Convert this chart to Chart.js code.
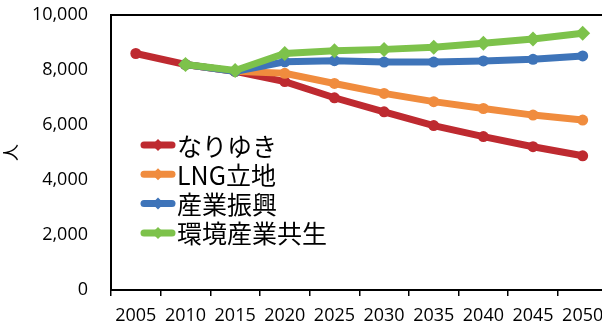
<!DOCTYPE html>
<html>
<head>
<meta charset="utf-8">
<script src="https://cdn.jsdelivr.net/npm/chart.js@4.4.1/dist/chart.umd.min.js"></script>
<style>
    html, body { margin: 0; padding: 0; background: #fff; overflow: hidden; }
    #wrap { width: 615px; height: 324px; }
</style>
</head>
<body>
<div id="wrap"><canvas id="chart" width="615" height="324"></canvas></div>
<script>
const years = ["2005", "2010", "2015", "2020", "2025", "2030", "2035", "2040", "2045", "2050"];
const seriesNames = ["なりゆき", "LNG立地", "産業振興", "環境産業共生"];
const nariyuki = [8600, 8200, 7950, 7580, 6990, 6480, 5980, 5580, 5210, 4880];
const lng = [null, 8200, 7950, 7880, 7510, 7150, 6850, 6600, 6360, 6180];
const sangyo = [null, 8200, 7950, 8300, 8340, 8290, 8290, 8330, 8390, 8510];
const kankyo = [null, 8200, 7980, 8600, 8700, 8750, 8830, 8970, 9130, 9340];
const yTicks = [0, 2000, 4000, 6000, 8000, 10000];

const colors = ["#BE2A30", "#F08C3E", "#3E74B9", "#7DC24B"];
const markers = ["circle", "circle", "circle", "rectRot"];

function makeDataset(i, data) {
    return {
        label: seriesNames[i],
        data: data,
        borderColor: colors[i],
        backgroundColor: colors[i],
        borderWidth: 7,
        pointStyle: markers[i],
        pointRadius: markers[i] === "rectRot" ? 7.5 : 5.5,
        pointBorderWidth: 0,
        tension: 0,
        order: 3 - i
    };
}

// legend drawn inside the plot area, like the original
const innerLegend = {
    id: "innerLegend",
    afterDraw(chart) {
        const ctx = chart.ctx;
        const area = chart.chartArea;
        // top border of the plot box
        ctx.save();
        ctx.strokeStyle = "#000";
        ctx.lineWidth = 2;
        ctx.beginPath();
        ctx.moveTo(area.left, area.top);
        ctx.lineTo(area.right, area.top);
        ctx.stroke();

        const x0 = area.left + 33;
        const y0 = area.top + 130;
        const rowH = 29.3;
        chart.data.datasets.forEach((ds, i) => {
            const y = y0 + i * rowH;
            ctx.strokeStyle = ds.borderColor;
            ctx.fillStyle = ds.borderColor;
            ctx.lineWidth = 7;
            ctx.lineCap = "round";
            ctx.beginPath();
            ctx.moveTo(x0, y);
            ctx.lineTo(x0 + 28, y);
            ctx.stroke();
            ctx.beginPath();
            ctx.moveTo(x0 + 14, y - 6);
            ctx.lineTo(x0 + 20, y);
            ctx.lineTo(x0 + 14, y + 6);
            ctx.lineTo(x0 + 8, y);
            ctx.closePath();
            ctx.fill();
            ctx.fillStyle = "#000";
            ctx.font = "25px 'Noto Sans CJK JP'";
            ctx.textBaseline = "middle";
            ctx.textAlign = "left";
            ctx.fillText(ds.label, x0 + 33, y + 1);
        });
        ctx.restore();
    }
};

new Chart(document.getElementById("chart").getContext("2d"), {
    type: "line",
    data: {
        labels: years,
        datasets: [
            makeDataset(0, nariyuki),
            makeDataset(1, lng),
            makeDataset(2, sangyo),
            makeDataset(3, kankyo)
        ]
    },
    options: {
        responsive: false,
        animation: false,
        layout: { padding: { top: 15, right: 0, left: 0, bottom: 0 } },
        plugins: {
            legend: { display: false },
            tooltip: { enabled: false }
        },
        scales: {
            x: {
                offset: true,
                grid: {
                    display: true,
                    offset: true,
                    drawOnChartArea: false,
                    color: "#000",
                    lineWidth: 1.5,
                    tickLength: 6
                },
                border: { display: true, color: "#000", width: 2 },
                ticks: {
                    color: "#000",
                    font: { family: "'Open Sans'", size: 18 },
                    padding: 9,
                    maxRotation: 0,
                    autoSkip: false
                },
                afterFit(scale) { scale.height = 34; }
            },
            y: {
                min: 0,
                max: 10000,
                afterBuildTicks(scale) {
                    scale.ticks = yTicks.map(v => ({ value: v }));
                },
                grid: { display: false },
                border: { display: true, color: "#000", width: 2 },
                ticks: {
                    color: "#000",
                    font: { family: "'Open Sans'", size: 18 },
                    padding: 15,
                    callback: v => v.toLocaleString("en-US")
                },
                title: {
                    display: true,
                    text: "人",
                    color: "#000",
                    font: { family: "'Noto Sans CJK JP'", size: 17 },
                    padding: 0
                },
                afterFit(scale) {
                    scale.width = 111;
                    scale.paddingTop = 0;
                    scale.paddingBottom = 0;
                }
            }
        }
    },
    plugins: [innerLegend]
});
</script>
</body>
</html>
